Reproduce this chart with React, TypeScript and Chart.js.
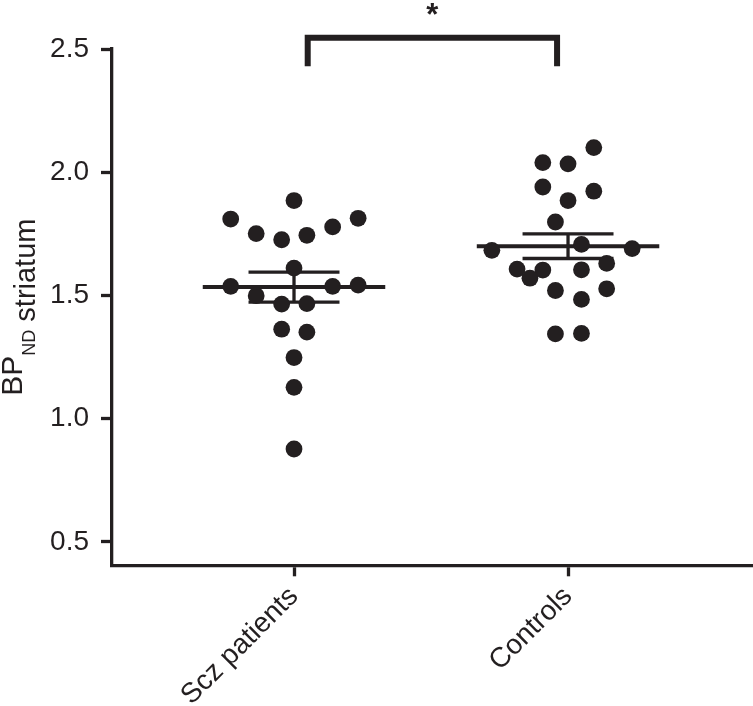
import React, { useEffect, useRef } from 'react';
import { Chart, registerables } from 'chart.js';

Chart.register(...registerables);

// ---- data ----
const groupLabels = ['Scz patients', 'Controls'];
const groupPositions = [1, 2];

const sczOffsets = [0, -0.231, 0.234, -0.138, -0.045, 0.047, 0.141, 0, -0.231, -0.138, -0.045, 0.047, 0.141, 0.234, -0.045, 0.047, 0, 0, 0];
const sczValues = [1.885, 1.81, 1.813, 1.751, 1.726, 1.744, 1.778, 1.611, 1.537, 1.499, 1.465, 1.467, 1.537, 1.542, 1.363, 1.351, 1.248, 1.127, 0.877];

const ctrlOffsets = [0.094, -0.092, 0, -0.092, 0.094, 0, -0.046, 0.049, -0.278, 0.234, -0.186, -0.092, -0.139, 0.049, 0.141, -0.046, 0.141, 0.049, -0.046, 0.049];
const ctrlValues = [2.1, 2.039, 2.034, 1.94, 1.923, 1.885, 1.798, 1.707, 1.683, 1.69, 1.607, 1.603, 1.57, 1.604, 1.63, 1.52, 1.527, 1.484, 1.344, 1.346];

const groupMeans = [1.534, 1.7];
const groupSems = [0.061, 0.05];

const yTicks = [0.5, 1.0, 1.5, 2.0, 2.5];

const bracketX = [1.05, 1.96];
const bracketY = [2.43, 2.546];
const sigLabel = '*';

// ---- style ----
const INK = '#231f20';
const FONT = "'Liberation Sans', Arial, Helvetica, sans-serif";
const MEAN_HALF = 0.333;
const SEM_HALF = 0.166;

function segs(build: (pos: number, m: number, s: number) => { x: number; y: number | null }[]) {
  const out: { x: number; y: number | null }[] = [];
  groupPositions.forEach((pos, i) => {
    out.push(...build(pos, groupMeans[i], groupSems[i]));
    out.push({ x: pos, y: null });
  });
  return out;
}

const titlePlugin = {
  id: 'titleAndStar',
  afterDraw(chart: any) {
    const ctx = chart.ctx as CanvasRenderingContext2D;
    const { x: xs, y: ys } = chart.scales;
    ctx.save();
    ctx.fillStyle = INK;
    // y-axis title with subscript
    const cy = (chart.chartArea.top + chart.chartArea.bottom) / 2;
    ctx.translate(0, cy);
    ctx.rotate(-Math.PI / 2);
    ctx.textAlign = 'left';
    ctx.textBaseline = 'alphabetic';
    const fBP = `30px ${FONT}`;
    const fND = `18px ${FONT}`;
    const fRest = `29px ${FONT}`;
    ctx.font = fBP;
    const wBP = ctx.measureText('BP').width;
    ctx.font = fND;
    const wND = ctx.measureText('ND').width;
    ctx.font = fRest;
    const wRest = ctx.measureText(' striatum').width;
    let px = -(wBP + wND + wRest) / 2;
    ctx.font = fBP;
    ctx.fillText('BP', px, 22);
    px += wBP;
    ctx.font = fND;
    ctx.fillText('ND', px, 35);
    px += wND;
    ctx.font = fRest;
    ctx.fillText(' striatum', px, 35);
    ctx.restore();

    // significance star
    ctx.save();
    ctx.fillStyle = INK;
    ctx.font = `bold 31px ${FONT}`;
    ctx.textAlign = 'center';
    ctx.textBaseline = 'alphabetic';
    ctx.fillText(sigLabel, xs.getPixelForValue((bracketX[0] + bracketX[1]) / 2), ys.getPixelForValue(bracketY[1]) - 13);
    ctx.restore();
  },
};

export default function App() {
  const ref = useRef<HTMLCanvasElement>(null);

  useEffect(() => {
    if (!ref.current) return;
    const pointDs = (offs: number[], vals: number[], pos: number) => ({
      data: vals.map((v, i) => ({ x: pos + offs[i], y: v })),
      backgroundColor: INK,
      borderWidth: 0,
      pointRadius: 8.4,
      showLine: false,
    });
    const lineDs = (data: any[], width: number) => ({
      data,
      showLine: true,
      spanGaps: false,
      borderColor: INK,
      borderWidth: width,
      borderCapStyle: 'butt',
      pointRadius: 0,
    });

    const chart = new Chart(ref.current, {
      type: 'scatter',
      data: {
        datasets: [
          pointDs(sczOffsets, sczValues, groupPositions[0]),
          pointDs(ctrlOffsets, ctrlValues, groupPositions[1]),
          lineDs(segs((p, m) => [{ x: p - MEAN_HALF, y: m }, { x: p + MEAN_HALF, y: m }]), 4),
          lineDs(segs((p, m, s) => [{ x: p - SEM_HALF, y: m + s }, { x: p + SEM_HALF, y: m + s }]), 3.3),
          lineDs(segs((p, m, s) => [{ x: p - SEM_HALF, y: m - s }, { x: p + SEM_HALF, y: m - s }]), 3.3),
          lineDs(segs((p, m, s) => [{ x: p, y: m - s }, { x: p, y: m + s }]), 3.3),
          {
            ...lineDs(
              [
                { x: bracketX[0], y: bracketY[0] },
                { x: bracketX[0], y: bracketY[1] },
                { x: bracketX[1], y: bracketY[1] },
                { x: bracketX[1], y: bracketY[0] },
              ],
              6
            ),
            borderJoinStyle: 'miter',
            clip: false,
          },
        ] as any,
      },
      options: {
        animation: false,
        responsive: false,
        maintainAspectRatio: false,
        layout: { autoPadding: false, padding: { top: 49, left: 0, right: 0, bottom: 0 } },
        plugins: { legend: { display: false }, tooltip: { enabled: false }, title: { display: false } },
        scales: {
          x: {
            type: 'linear',
            min: 0.3358,
            max: 2.675,
            afterBuildTicks: (s: any) => {
              s.ticks = groupPositions.map((v) => ({ value: v }));
            },
            afterFit: (s: any) => {
              s.height = 140.7;
              s.paddingLeft = 0;
              s.paddingRight = 0;
            },
            ticks: {
              callback: (v: any) => groupLabels[groupPositions.indexOf(Number(v))] ?? '',
              minRotation: 45,
              maxRotation: 45,
              autoSkip: false,
              font: { size: 28, family: FONT },
              color: INK,
              padding: 4,
            },
            grid: { drawOnChartArea: false, drawTicks: true, tickLength: 11, tickWidth: 3.3, color: INK },
            border: { display: true, color: INK, width: 3.3 },
          },
          y: {
            type: 'linear',
            min: 0.405,
            max: 2.5,
            afterBuildTicks: (s: any) => {
              s.ticks = yTicks.map((v) => ({ value: v }));
            },
            afterFit: (s: any) => {
              s.width = 112;
            },
            ticks: {
              callback: (v: any) => Number(v).toFixed(1),
              font: { size: 28, family: FONT },
              color: INK,
              padding: 12,
            },
            grid: { drawOnChartArea: false, drawTicks: true, tickLength: 11, tickWidth: 3.3, color: INK },
            border: { display: true, color: INK, width: 3.3 },
          },
        },
      } as any,
      plugins: [titlePlugin],
    });
    return () => chart.destroy();
  }, []);

  return (
    <div style={{ position: 'absolute', left: 0, top: 0, width: 753, height: 706, background: '#fff' }}>
      <canvas ref={ref} width={753} height={706} />
    </div>
  );
}
